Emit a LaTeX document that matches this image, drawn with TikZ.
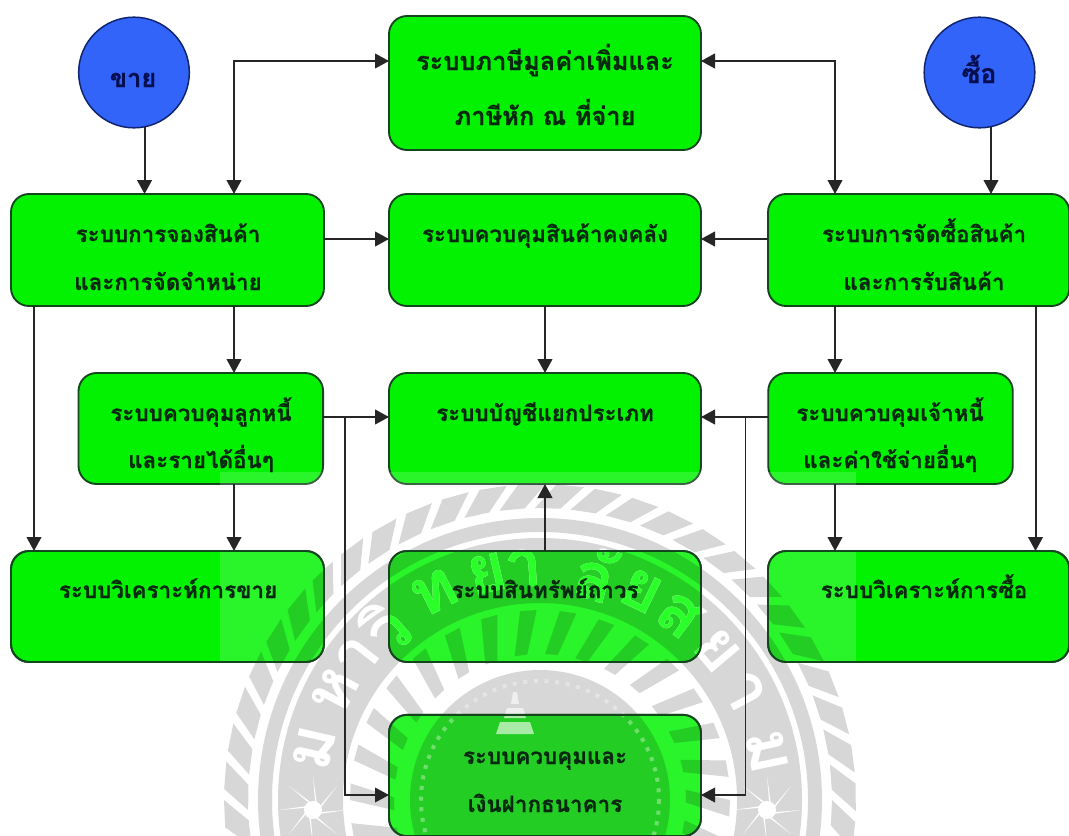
\documentclass[tikz,border=0pt]{standalone}
\usepackage{fontspec}
\newfontfamily\thaifont[Script=Thai,BoldFeatures={FakeBold=0.7}]{Loma}
\newfontfamily\sealfont[Script=Thai]{Loma}
\usetikzlibrary{arrows.meta}
\definecolor{boxgreen}{RGB}{2,242,2}
\definecolor{boxedge}{RGB}{20,70,30}
\definecolor{discblue}{RGB}{50,100,250}
\definecolor{discedge}{RGB}{15,35,110}
\definecolor{inkgreen}{RGB}{5,40,15}
\definecolor{inknavy}{RGB}{5,15,80}
\definecolor{veilgreen}{RGB}{42,255,42}
\tikzset{
  x=0.75pt,y=-0.75pt,
  gbox/.style={draw=boxedge,line width=1.4pt,fill=boxgreen,rounded corners=13.5pt,inner sep=0pt,outer sep=0pt},
  edgeonly/.style={draw=boxedge,line width=1.4pt,rounded corners=13.5pt},
  disc/.style={circle,draw=discedge,line width=1.1pt,fill=discblue,minimum size=83pt,inner sep=0pt,outer sep=0pt},
  lbl/.style={anchor=base,inner sep=0pt,text=inkgreen,font=\thaifont\bfseries\fontsize{16.8}{19}\selectfont},
  lblbig/.style={lbl,font=\thaifont\bfseries\fontsize{19}{22}\selectfont},
  lbldisc/.style={lbl,text=inknavy,font=\thaifont\bfseries\fontsize{19}{22}\selectfont},
  lbldisctwo/.style={lbl,text=inknavy,font=\thaifont\bfseries\fontsize{20}{22}\selectfont},
  conn/.style={draw=black!85,line width=1.5pt,-{Triangle[length=10.5pt,width=11pt]}},
  connboth/.style={draw=black!85,line width=1.5pt,{Triangle[length=10.5pt,width=11pt]}-{Triangle[length=10.5pt,width=11pt]}},
  conntwo/.style={conn,line width=1.1pt},
  sealpart/.style={fill=black,fill opacity=0.155,draw=none},
  sealhole/.style={fill=white,draw=none},
  sealtext/.style={inner sep=0pt,font=\sealfont\bfseries\fontsize{50}{54}\selectfont}
}
\begin{document}
\begin{tikzpicture}
\useasboundingbox (0,0) rectangle (1069,835);
\path[fill=white] (0,0) rectangle (1069,835);

% discs
\node[disc] (khai) at (134,72.5) {};
\node[disc] (sue) at (979.5,72.5) {};

% boxes
\node[gbox,minimum width=234pt,minimum height=100.5pt] (vat) at (545,83) {};
\node[gbox,minimum width=234.75pt,minimum height=84pt] (sales) at (167.5,250) {};
\node[gbox,minimum width=234pt,minimum height=84pt] (inv) at (545,250) {};
\node[gbox,minimum width=226pt,minimum height=84pt] (buy) at (918.7,250) {};
\node[gbox,minimum width=183.4pt,minimum height=83.25pt] (debtor) at (200.8,428.5) {};
\node[gbox,minimum width=234pt,minimum height=83.25pt] (ledger) at (545,428.5) {};
\node[gbox,minimum width=183.4pt,minimum height=83.25pt] (creditor) at (890.5,428.5) {};
\node[gbox,minimum width=234.75pt,minimum height=83.25pt] (salesan) at (167.5,606.5) {};
\node[gbox,minimum width=234pt,minimum height=83.25pt] (asset) at (545,606.5) {};
\node[gbox,minimum width=226pt,minimum height=83.25pt] (buyan) at (918.7,606.5) {};
\node[gbox,minimum width=234pt,minimum height=91pt] (bank) at (545,775.5) {};

% watermark seal
\begin{scope}
\clip (220,472) rectangle (856,835);
\fill[white,fill opacity=0.16] (220,472) rectangle (856,835);
\begin{scope}[shift={(540,800)}]
  \foreach \a in {150,157,...,395}{
    \path[sealpart] (\a:292) -- ({\a+4}:316) -- ({\a+9}:316) -- ({\a+5}:292) -- cycle;
  }
  \path[sealpart,even odd rule] (0,0) circle[radius=282] (0,0) circle[radius=268];
  \path[sealpart,even odd rule] (0,0) circle[radius=262] (0,0) circle[radius=197];
  \foreach \a in {140,152,...,400}{
    \path[sealpart] (\a:146) -- ({\a+4}:190) -- ({\a+9}:190) -- ({\a+5}:146) -- cycle;
  }
  \path[sealpart] (0,0) circle[radius=130];
  \path[draw=white,draw opacity=0.35,line width=3pt,dash pattern=on 3pt off 5pt] (0,0) circle[radius=119];
  \path[fill=white,fill opacity=0.6] (-27,-108) -- (-23,-108) -- (-21,-96) -- (-29,-96) -- cycle
     (-33,-92) -- (-17,-92) -- (-14,-82) -- (-36,-82) -- cycle
     (-40,-78) -- (-10,-78) -- (-6,-66) -- (-44,-66) -- cycle;
  \foreach \c/\a in {ม/193,ห/208,า/218,วิ/228,ท/243,ย/257,า/266,ลั/284,ย/296,ส/307,ย/320,า/332,ม/348}{
    \node[sealtext,text=white,rotate={270-\a}] at (\a:232) {\c};
  }
  \foreach \sx in {-227,227}{
    \foreach \b in {0,45,...,315}{
      \path[sealhole] (\sx,10) ++(\b:34) -- ++({\b+172}:30) -- ++({\b+188}:8) -- cycle;
    }
    \path[sealhole] (\sx,10) circle[radius=9];
  }
\end{scope}
\end{scope}
\begin{scope}
\clip[rounded corners=13.5pt] (asset.south west) rectangle (asset.north east)
   (bank.south west) rectangle (bank.north east);
\begin{scope}[shift={(540,800)}]
  \foreach \c/\a in {วิ/228,ท/243,ย/257,า/266,ลั/284,ย/296,ส/307,ย/320}{
    \node[sealtext,text=veilgreen,rotate={270-\a}] at (\a:232) {\c};
  }
\end{scope}
\end{scope}
\foreach \n in {salesan,asset,bank,buyan}{
  \path[edgeonly] (\n.south west) rectangle (\n.north east);
}

% junction coordinates
\coordinate (tl) at (234,61);
\coordinate (tr) at (835,61);
\coordinate (drop1) at (34,0);
\coordinate (drop2) at (1035.5,0);
\coordinate (jl) at (345,795);
\coordinate (jr) at (745.5,795);
\coordinate (mid) at (545,0);

% connectors
\draw[conn] (khai.-79) -- (khai.-79 |- sales.north);
\draw[conn] (sue.-78) -- (sue.-78 |- buy.north);
\draw[connboth] (tl |- sales.north) -- (tl) -- (tl -| vat.west);
\draw[connboth] (tr -| vat.east) -- (tr) -- (tr |- buy.north);
\draw[conn] (sales.east |- 0,239) -- (inv.west |- 0,239);
\draw[conn] (buy.west |- 0,239) -- (inv.east |- 0,239);
\draw[conn] (tl |- sales.south) -- (tl |- debtor.north);
\draw[conn] (tr |- buy.south) -- (tr |- creditor.north);
\draw[conn] (mid |- inv.south) -- (mid |- ledger.north);
\draw[conn] (drop1 |- sales.south) -- (drop1 |- salesan.north);
\draw[conn] (drop2 |- buy.south) -- (drop2 |- buyan.north);
\draw[conn] (debtor.east |- 0,417) -- (ledger.west |- 0,417);
\draw[conn] (creditor.west |- 0,417) -- (ledger.east |- 0,417);
\draw[conn] (tl |- debtor.south) -- (tl |- salesan.north);
\draw[conn] (tr |- creditor.south) -- (tr |- buyan.north);
\draw[conn] (mid |- asset.north) -- (mid |- ledger.south);
\draw[conntwo] (jl |- 0,417) -- (jl) -- (jl -| bank.west);
\draw[conntwo] (jr |- 0,417) -- (jr) -- (jr -| bank.east);

% labels
\node[lbldisc] (khaitext) at (133,87) {ขาย};
\node[lbldisctwo] (suetext) at (979,83) {ซื้อ};
\node[lblbig] (t1) at (545,70) {ระบบภาษีมูลค่าเพิ่มและ};
\node[lblbig] (t2) at (545,125) {ภาษีหัก ณ ที่จ่าย};
\node[lbl] (t3) at (168,242) {ระบบการจองสินค้า};
\node[lbl] (t4) at (168,290) {และการจัดจำหน่าย};
\node[lbl] (t5) at (545,242) {ระบบควบคุมสินค้าคงคลัง};
\node[lbl] (t6) at (924,242) {ระบบการจัดซื้อสินค้า};
\node[lbl] (t7) at (924,290) {และการรับสินค้า};
\node[lbl] (t8) at (201,421) {ระบบควบคุมลูกหนี้};
\node[lbl] (t9) at (201,468) {และรายได้อื่นๆ};
\node[lbl] (t10) at (545,421) {ระบบบัญชีแยกประเภท};
\node[lbl] (t11) at (890,421) {ระบบควบคุมเจ้าหนี้};
\node[lbl] (t12) at (890,468) {และค่าใช้จ่ายอื่นๆ};
\node[lbl] (t13) at (168,598) {ระบบวิเคราะห์การขาย};
\node[lbl] (t14) at (545,598) {ระบบสินทรัพย์ถาวร};
\node[lbl] (t15) at (924,598) {ระบบวิเคราะห์การซื้อ};
\node[lbl] (t16) at (545,764) {ระบบควบคุมและ};
\node[lbl] (t17) at (545,812) {เงินฝากธนาคาร};
\end{tikzpicture}
\end{document}
